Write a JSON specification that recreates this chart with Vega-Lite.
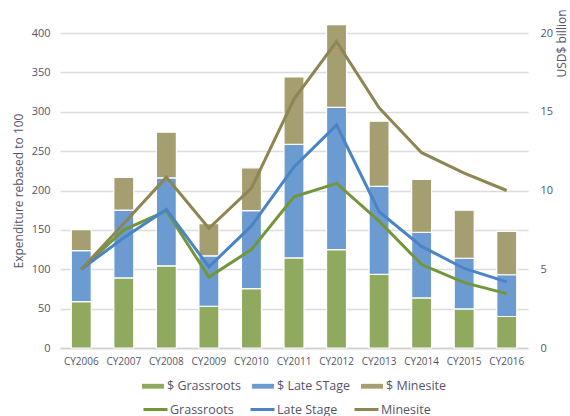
{
  "$schema": "https://vega.github.io/schema/vega-lite/v6.json",
  "width": 468,
  "height": 315,
  "autosize": {"type": "none"},
  "padding": {"left": 60, "top": 33, "right": 42, "bottom": 68},
  "background": "white",
  "config": {
    "font": "Open Sans",
    "view": {"stroke": null},
    "axis": {"labelColor": "#55556a", "titleColor": "#55556a", "titleFontWeight": "normal", "ticks": false, "domain": false, "gridColor": "#dcdcdc", "gridWidth": 1.5},
    "legend": {"padding": 0, "layout": {"bottom": {"anchor": "middle", "direction": "vertical", "margin": 3}}}
  },
  "data": {
    "values": [
      {"year": "CY2006", "bar": "$ Grassroots", "line": "Grassroots", "usd": 2.95, "idx": 100},
      {"year": "CY2007", "bar": "$ Grassroots", "line": "Grassroots", "usd": 4.45, "idx": 150},
      {"year": "CY2008", "bar": "$ Grassroots", "line": "Grassroots", "usd": 5.22, "idx": 174},
      {"year": "CY2009", "bar": "$ Grassroots", "line": "Grassroots", "usd": 2.65, "idx": 90},
      {"year": "CY2010", "bar": "$ Grassroots", "line": "Grassroots", "usd": 3.77, "idx": 125},
      {"year": "CY2011", "bar": "$ Grassroots", "line": "Grassroots", "usd": 5.72, "idx": 192},
      {"year": "CY2012", "bar": "$ Grassroots", "line": "Grassroots", "usd": 6.24, "idx": 209},
      {"year": "CY2013", "bar": "$ Grassroots", "line": "Grassroots", "usd": 4.68, "idx": 161},
      {"year": "CY2014", "bar": "$ Grassroots", "line": "Grassroots", "usd": 3.18, "idx": 106},
      {"year": "CY2015", "bar": "$ Grassroots", "line": "Grassroots", "usd": 2.48, "idx": 83},
      {"year": "CY2016", "bar": "$ Grassroots", "line": "Grassroots", "usd": 2.0, "idx": 69},
      {"year": "CY2006", "bar": "$ Late STage", "line": "Late Stage", "usd": 3.23, "idx": 100},
      {"year": "CY2007", "bar": "$ Late STage", "line": "Late Stage", "usd": 4.3, "idx": 140},
      {"year": "CY2008", "bar": "$ Late STage", "line": "Late Stage", "usd": 5.58, "idx": 176},
      {"year": "CY2009", "bar": "$ Late STage", "line": "Late Stage", "usd": 3.2, "idx": 103},
      {"year": "CY2010", "bar": "$ Late STage", "line": "Late Stage", "usd": 4.95, "idx": 155},
      {"year": "CY2011", "bar": "$ Late STage", "line": "Late Stage", "usd": 7.21, "idx": 230},
      {"year": "CY2012", "bar": "$ Late STage", "line": "Late Stage", "usd": 9.04, "idx": 283},
      {"year": "CY2013", "bar": "$ Late STage", "line": "Late Stage", "usd": 5.58, "idx": 173},
      {"year": "CY2014", "bar": "$ Late STage", "line": "Late Stage", "usd": 4.17, "idx": 129},
      {"year": "CY2015", "bar": "$ Late STage", "line": "Late Stage", "usd": 3.22, "idx": 101},
      {"year": "CY2016", "bar": "$ Late STage", "line": "Late Stage", "usd": 2.65, "idx": 84},
      {"year": "CY2006", "bar": "$ Minesite", "line": "Minesite", "usd": 1.33, "idx": 100},
      {"year": "CY2007", "bar": "$ Minesite", "line": "Minesite", "usd": 2.08, "idx": 158},
      {"year": "CY2008", "bar": "$ Minesite", "line": "Minesite", "usd": 2.9, "idx": 217},
      {"year": "CY2009", "bar": "$ Minesite", "line": "Minesite", "usd": 2.05, "idx": 152},
      {"year": "CY2010", "bar": "$ Minesite", "line": "Minesite", "usd": 2.72, "idx": 203},
      {"year": "CY2011", "bar": "$ Minesite", "line": "Minesite", "usd": 4.28, "idx": 316},
      {"year": "CY2012", "bar": "$ Minesite", "line": "Minesite", "usd": 5.25, "idx": 389},
      {"year": "CY2013", "bar": "$ Minesite", "line": "Minesite", "usd": 4.14, "idx": 305},
      {"year": "CY2014", "bar": "$ Minesite", "line": "Minesite", "usd": 3.35, "idx": 248},
      {"year": "CY2015", "bar": "$ Minesite", "line": "Minesite", "usd": 3.05, "idx": 222},
      {"year": "CY2016", "bar": "$ Minesite", "line": "Minesite", "usd": 2.75, "idx": 200}
    ]
  },
  "encoding": {
    "x": {
      "field": "year", "type": "nominal", "title": null,
      "scale": {"paddingInner": 0.53, "paddingOuter": 0.265},
      "axis": {"labelAngle": 0, "labelFontSize": 10, "labelPadding": 8, "domain": true, "domainColor": "#d0d0d0", "domainWidth": 1.5, "grid": false}
    }
  },
  "layer": [
    {
      "mark": {"type": "bar", "stroke": "white", "strokeWidth": 1.2},
      "encoding": {
        "y": {
          "field": "usd", "type": "quantitative", "stack": "zero",
          "scale": {"domain": [0, 20], "nice": false},
          "axis": {"orient": "right", "title": "USD$ billion", "titleFontSize": 12, "titleAngle": 270, "titleX": 33, "titleY": 10, "titleAlign": "center", "titleBaseline": "middle", "labelFontSize": 11, "labelPadding": 12, "tickCount": 5, "grid": false}
        },
        "color": {
          "field": "bar", "type": "nominal",
          "scale": {"domain": ["$ Grassroots", "$ Late STage", "$ Minesite"], "range": ["#8fa95f", "#6c9bd1", "#a59e70"]},
          "legend": {"orient": "bottom", "direction": "horizontal", "title": null, "symbolType": "M-1,-0.22H1V0.22H-1Z", "symbolSize": 484, "symbolStrokeWidth": 0, "symbolOpacity": 1, "labelFontSize": 12.5, "labelColor": "#55556a", "labelOffset": 3, "columnPadding": 10, "offset": 9}
        },
        "order": {"field": "bar", "type": "nominal", "sort": "ascending"}
      }
    },
    {
      "mark": {"type": "line", "strokeWidth": 3},
      "encoding": {
        "y": {
          "field": "idx", "type": "quantitative",
          "scale": {"domain": [0, 400], "nice": false},
          "axis": {"orient": "left", "title": "Expenditure rebased to 100", "titleFontSize": 12, "titlePadding": 6, "labelFontSize": 11, "labelPadding": 10, "tickCount": 8, "grid": true}
        },
        "stroke": {
          "field": "line", "type": "nominal",
          "scale": {"domain": ["Grassroots", "Late Stage", "Minesite"], "range": ["#74963b", "#4b84c6", "#8e8552"]},
          "legend": {"orient": "bottom", "direction": "horizontal", "title": null, "symbolType": "stroke", "symbolSize": 576, "symbolStrokeWidth": 3, "labelFontSize": 12.5, "labelColor": "#55556a", "labelOffset": 1, "columnPadding": 10}
        }
      }
    }
  ],
  "resolve": {"scale": {"y": "independent", "x": "shared"}}
}
